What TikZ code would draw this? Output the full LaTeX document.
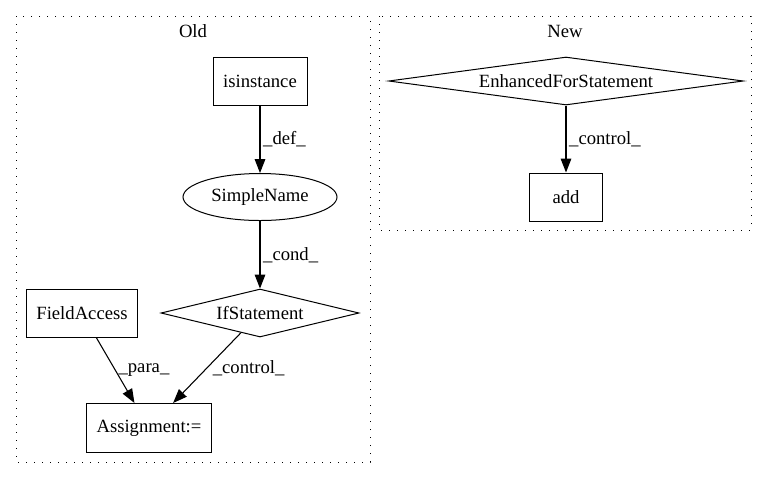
\documentclass[tikz,border=0pt]{standalone}
\usepackage{fontspec}
\setmainfont{Liberation Serif}
\usepackage{tikz}
\usetikzlibrary{shapes.geometric}
\usetikzlibrary{arrows.meta}

\tikzset{
  boxnode/.style={draw, rectangle, line width=0.75pt, inner sep=0pt},
  ellnode/.style={draw, ellipse, line width=0.75pt, inner sep=0pt},
  dianode/.style={draw, diamond, line width=0.75pt, inner sep=0pt},
  depedge/.style={line width=0.8pt, -{Triangle[length=10.5pt,width=8pt]}},
  edgelabel/.style={midway, right, inner sep=2pt},
  cluster/.style={line width=0.75pt, dash pattern=on 0.75pt off 5.25pt}
}

\begin{document}
\begin{tikzpicture}[x=0.75pt,y=-0.75pt,font=\fontsize{14pt}{17pt}\selectfont]
\useasboundingbox (0,0) rectangle (767,480);
% Clusters
\draw[cluster] (16,16) rectangle (370,462);
\node (oldlabel) at (193,31) {Old};
\draw[cluster] (379,16) rectangle (751,230);
\node (newlabel) at (565,31) {New};
% Nodes of the old version
\node[boxnode, minimum width=70.5pt, minimum height=36pt] (isinst) at (260,81) {isinstance};
\node[ellnode, minimum width=115.5pt, minimum height=35.25pt] (sname) at (260,197) {SimpleName};
\node[dianode, aspect=4, minimum width=148.5pt, minimum height=36pt] (ifstmt) at (260,313) {IfStatement};
\node[boxnode, minimum width=83.25pt, minimum height=36pt] (faccess) at (82,313) {FieldAccess};
\node[boxnode, minimum width=94pt, minimum height=36.75pt] (assign) at (149,428) {Assignment:=};
% Nodes of the new version
\node[dianode, aspect=8, minimum width=266pt, minimum height=36pt] (efor) at (566,81) {EnhancedForStatement};
\node[boxnode, minimum width=54.75pt, minimum height=36pt] (add) at (566,197) {add};
%
% Dependency Edges:
\draw[depedge] (isinst) -- (sname) node[edgelabel] {\_def\_};
\draw[depedge] (sname) -- (ifstmt) node[edgelabel] {\_cond\_};
\draw[depedge] (faccess) -- (assign) node[edgelabel] {\_para\_};
\draw[depedge] (ifstmt) -- (assign) node[edgelabel, inner sep=4pt] {\_control\_};
\draw[depedge] (efor) -- (add) node[edgelabel] {\_control\_};
\end{tikzpicture}
\end{document}
